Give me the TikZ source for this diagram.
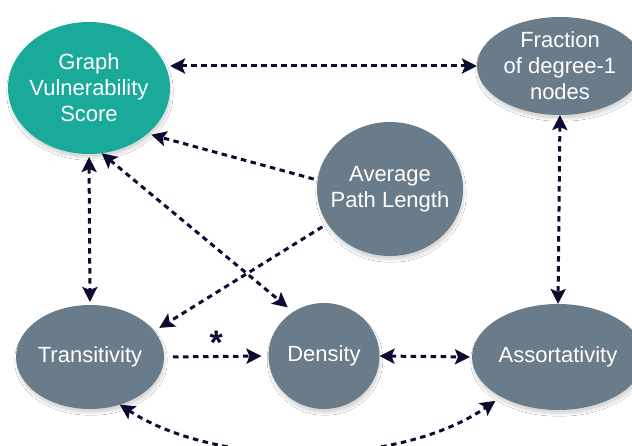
\documentclass[tikz,border=0pt]{standalone}
\usepackage{fontspec}
\setmainfont{Liberation Sans}
\usetikzlibrary{positioning, arrows.meta, shapes.geometric, shadows.blur}

\definecolor{scoreteal}{RGB}{26,170,153}
\definecolor{metricgray}{RGB}{106,124,137}
\definecolor{linknavy}{RGB}{12,12,48}

\begin{document}
\begin{tikzpicture}[
    x=1pt, y=-1pt,
    metric/.style={ellipse, fill=metricgray, text=white, inner sep=-10pt, outer sep=0pt, align=center,
      font=\fontsize{22}{26}\selectfont,
      blur shadow={shadow xshift=1pt, shadow yshift=-4pt, shadow blur steps=8, shadow blur extra rounding=2pt, shadow opacity=15}},
    score/.style={metric, fill=scoreteal},
    link/.style={draw=linknavy, line width=3pt, dash pattern=on 5.5pt off 4.5pt,
      -{Stealth[length=15pt, width=15pt, inset=3pt]}},
    biLink/.style={link, {Stealth[length=15pt, width=15pt, inset=3pt]}-{Stealth[length=15pt, width=15pt, inset=3pt]}}
  ]
    \useasboundingbox[fill=white] (0,0) rectangle (632,446);

    % Score at the top left, metrics around it
    \node[score, minimum width=162pt, minimum height=132pt] (gvs) at (89,88) {Graph\\Vulnerability\\Score};
    \node[metric, minimum width=166pt, minimum height=98pt] (frac) at (560,66) {Fraction\\of degree-1\\nodes};
    \node[metric, minimum width=146pt, minimum height=134pt] (apl) at (390,189) {Average\\Path Length};
    \node[metric, minimum width=148pt, minimum height=104pt] (trans) at (90,357) {Transitivity};
    \node[metric, minimum width=111pt, minimum height=106pt] (dens) at (324,356) {Density};
    \node[metric, minimum width=172pt, minimum height=106pt] (assort) at (558,357) {Assortativity};

    % Links
    \draw[biLink] (gvs.east |- frac.west) -- (frac.west);
    \draw[biLink, shorten <=3pt, shorten >=3pt] (gvs.south) -- (trans.north);
    \draw[link, shorten <=4pt, shorten >=4pt] (apl.173) -- (gvs.-38);
    \draw[link, shorten <=6pt, shorten >=6pt] (apl.-151) -- (trans.22);
    \draw[biLink, shorten >=7pt] (gvs.-79) -- (dens.125);
    \draw[link, shorten <=9pt, shorten >=7pt] (trans.east) -- (dens.west)
      node[midway, above=0pt, inner sep=0pt, text=linknavy, font=\bfseries\fontsize{34}{34}\selectfont] (star) {*};
    \draw[biLink, shorten >=2pt] (dens.east) -- (assort.west);
    \draw[biLink] (frac.south) -- (assort.north);
    \draw[biLink, shorten >=7pt] (trans.-58) .. controls +(100,65) and +(-100,70) .. (assort.-145);
\end{tikzpicture}
\end{document}
